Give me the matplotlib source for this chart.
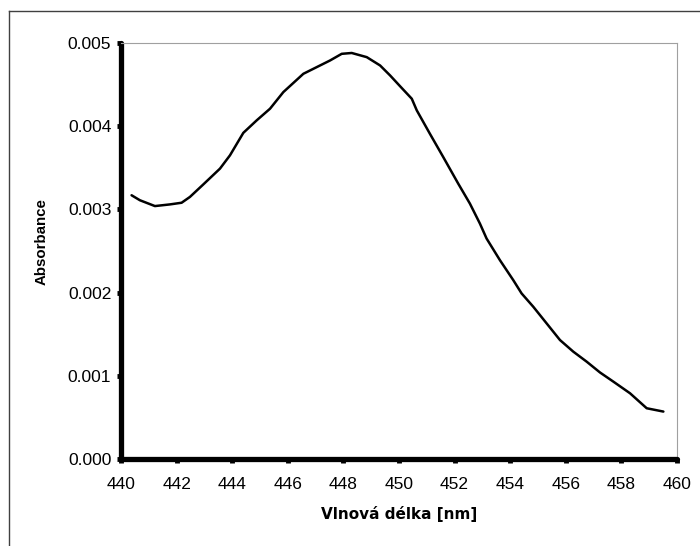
import matplotlib
matplotlib.use("Agg")
import matplotlib.pyplot as plt
from matplotlib.lines import Line2D

plt.rcParams['font.family'] = ['Liberation Sans', 'DejaVu Sans']

wavelength = [440.38, 440.68, 441.22, 441.76, 442.18, 442.48, 442.96, 443.56, 443.92,
              444.40, 444.88, 445.36, 445.84, 446.20, 446.56, 447.16, 447.52, 447.94,
              448.30, 448.84, 449.32, 449.68, 450.04, 450.46, 450.64, 451.11, 451.59,
              452.13, 452.55, 452.91, 453.15, 453.63, 454.11, 454.41, 454.83, 455.31,
              455.79, 456.27, 456.75, 457.23, 457.71, 458.31, 458.91, 459.21, 459.51]
absorbance = [0.00317, 0.00311, 0.00304, 0.00306, 0.00308, 0.00315, 0.00330, 0.00349, 0.00365,
              0.00392, 0.00407, 0.00421, 0.00441, 0.00452, 0.00463, 0.00473, 0.00479, 0.00487,
              0.00488, 0.00483, 0.00473, 0.00461, 0.00448, 0.00433, 0.00419, 0.00391, 0.00363,
              0.00331, 0.00307, 0.00283, 0.00265, 0.00239, 0.00215, 0.00199, 0.00183, 0.00163,
              0.00143, 0.00129, 0.00117, 0.00104, 0.00093, 0.00079, 0.00061, 0.00059, 0.00057]

x_ticks = [440, 442, 444, 446, 448, 450, 452, 454, 456, 458, 460]
y_ticks = [0.000, 0.001, 0.002, 0.003, 0.004, 0.005]
y_tick_labels = ["0.000", "0.001", "0.002", "0.003", "0.004", "0.005"]
x_label = "Vlnová délka [nm]"
y_label = "Absorbance"

fig = plt.figure(figsize=(7.0, 5.46), dpi=100)
ax = fig.add_axes([121/700, 1-459/546, (677-121)/700, (459-43)/546])

ax.plot(wavelength, absorbance, color='black', lw=1.8, solid_capstyle='round',
        solid_joinstyle='round')
ax.set_xlim(440, 460)
ax.set_ylim(0, 0.005)
ax.set_xticks(x_ticks)
ax.set_xticklabels([str(t) for t in x_ticks])
ax.set_yticks(y_ticks)
ax.set_yticklabels(y_tick_labels)

for s in ['left', 'bottom']:
    ax.spines[s].set_linewidth(3.8)
    ax.spines[s].set_color('black')
    ax.spines[s].set_capstyle('round')
for s in ['top', 'right']:
    ax.spines[s].set_linewidth(0.8)
    ax.spines[s].set_color('#a0a0a0')
    ax.spines[s].set_linestyle((0, (1, 1)))

ax.tick_params(axis='both', direction='out', length=3, width=3.5, color='black',
               labelsize=12.5)
ax.tick_params(axis='y', pad=4)
ax.tick_params(axis='x', pad=10)

ax.set_xlabel(x_label, fontsize=11, fontweight='bold', family=['DejaVu Sans'])
ax.xaxis.label.set_va('baseline')
ax.xaxis.set_label_coords(0.5, (459-519)/416)

ax.set_ylabel(y_label, fontsize=10.8, fontweight='bold')
ax.yaxis.label.set_va('center')
ax.yaxis.label.set_ha('center')
ax.yaxis.set_label_coords((42-121)/556, (459-242)/416)

# outer frame lines (top and left)
fig.add_artist(Line2D([9/700, 1.0], [1-11/546, 1-11/546], transform=fig.transFigure,
                      color='#404040', lw=1.0))
fig.add_artist(Line2D([9/700, 9/700], [0.0, 1-11/546], transform=fig.transFigure,
                      color='#404040', lw=1.0))

fig.savefig('out.png', dpi=100)
